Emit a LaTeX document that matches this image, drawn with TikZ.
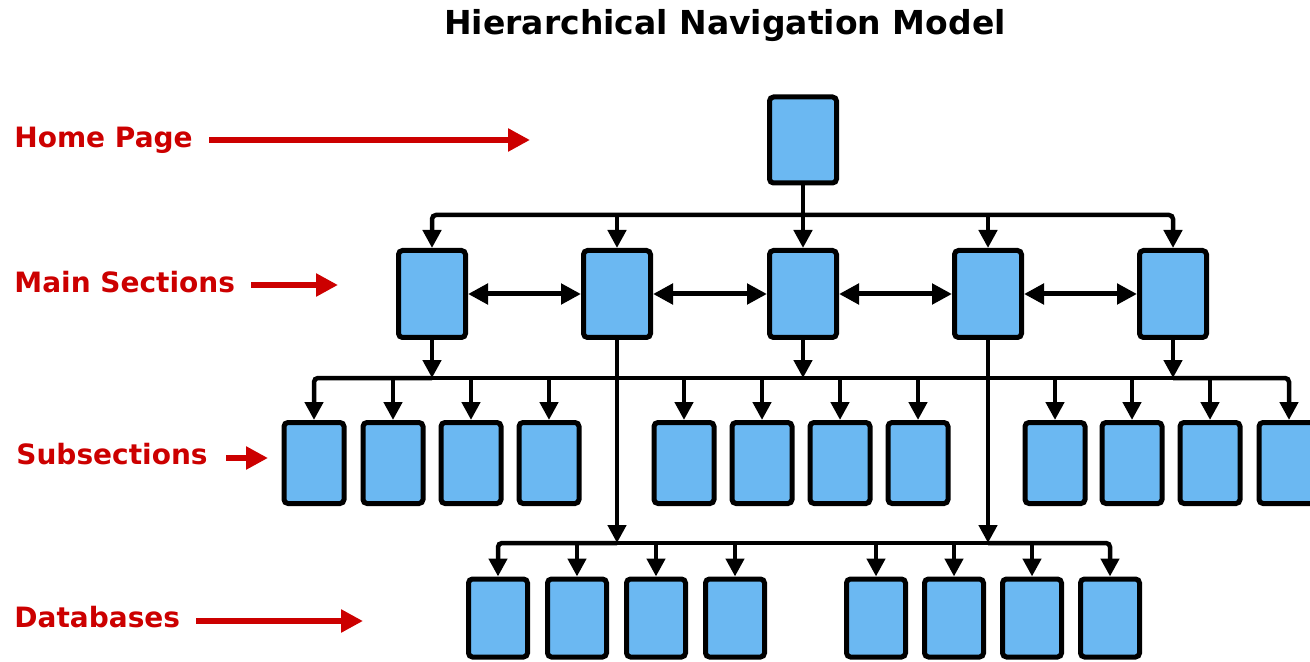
\documentclass[tikz,border=0pt]{standalone}
\usepackage{fontspec}
\setmainfont{DejaVu Sans}
\usetikzlibrary{arrows.meta,calc,positioning}
\definecolor{pageblue}{HTML}{6BB8F2}
\definecolor{labelred}{HTML}{CC0000}

\begin{document}
\begin{tikzpicture}[x=0.5pt,y=-0.5pt,
    page/.style={draw=black,line width=2.5pt,fill=pageblue,rounded corners=2pt,
        minimum width=33.5pt,minimum height=43.5pt,inner sep=0pt},
    subpage/.style={page,minimum width=30pt,minimum height=40.5pt},
    dbpage/.style={page,minimum width=29.5pt,minimum height=39pt},
    wire/.style={line width=2.25pt},
    link/.style={wire,-{Triangle[length=9pt,width=9pt]}},
    twoway/.style={line width=2.5pt,{Triangle[length=10pt,width=10pt]}-{Triangle[length=10pt,width=10pt]}},
    level/.style={text=labelred,font=\bfseries\fontsize{14}{16}\selectfont,anchor=base west,inner sep=0pt},
    pointer/.style={draw=labelred,line width=3pt,-{Triangle[length=11pt,width=11pt]}}]
    \useasboundingbox (0,0) rectangle (1310,662);
    % pages
    \node[page,minimum height=43pt] (home) at (803,140) {};
    \foreach \x [count=\i] in {432,617,803,988,1173}
        \node[page] (m\i) at (\x,294) {};
    \foreach \x [count=\i] in {314,393,471,549,684,762,840,918,1055,1132,1210,1289}
        \node[subpage] (s\i) at (\x,463) {};
    \foreach \x [count=\i] in {498,577,656,735,876,954,1032,1110}
        \node[dbpage] (d\i) at (\x,618) {};
    \coordinate (topbus) at (0,215);
    \coordinate (subbus) at (0,378);
    \coordinate (dbbus) at (0,543);
    % home page to main sections
    \draw[link] (home.south) -- (m3.north);
    \draw[link,rounded corners=2pt] (home.south |- topbus) -| (m1.north);
    \draw[link,rounded corners=2pt] (home.south |- topbus) -| (m5.north);
    \draw[link] (m2.north |- topbus) -- (m2.north);
    \draw[link] (m4.north |- topbus) -- (m4.north);
    \foreach \i [evaluate=\i as \j using int(\i+1)] in {1,...,4}
        \draw[twoway] (m\i.east) -- (m\j.west);
    % main sections to subsections
    \foreach \i in {1,3,5}
        \draw[link] (m\i.south) -- (m\i.south |- subbus);
    \draw[wire] (m1.south |- subbus) -- (m5.south |- subbus);
    \draw[link,rounded corners=2pt] (m1.south |- subbus) -| (s1.north);
    \draw[link,rounded corners=2pt] (m5.south |- subbus) -| (s12.north);
    \foreach \i in {2,...,11}
        \draw[link] (s\i.north |- subbus) -- (s\i.north);
    % main sections to databases
    \foreach \i in {2,4}
        \draw[link] (m\i.south) -- (m\i.south |- dbbus);
    \draw[wire] (m2.south |- dbbus) -- (m4.south |- dbbus);
    \draw[link,rounded corners=2pt] (m2.south |- dbbus) -| (d1.north);
    \draw[link,rounded corners=2pt] (m4.south |- dbbus) -| (d8.north);
    \foreach \i in {2,...,7}
        \draw[link] (d\i.north |- dbbus) -- (d\i.north);
    % titles and levels
    \node[font=\bfseries\fontsize{16.5}{20}\selectfont,anchor=base,inner sep=0pt] (title) at (725,35) {Hierarchical Navigation Model};
    \node[level] (lhome) at (14,148) {Home Page};
    \node[level] (lmain) at (14,293) {Main Sections};
    \node[level] (lsub) at (16,464) {Subsections};
    \node[level] (ldb) at (14,627) {Databases};
    \coordinate (homeend) at (530,140);
    \coordinate (mainend) at (338,285);
    \coordinate (subend) at (268,458);
    \coordinate (dbend) at (363,621);
    \draw[pointer,shorten <=8pt] (lhome.east |- homeend) -- (homeend);
    \draw[pointer,shorten <=8pt] (lmain.east |- mainend) -- (mainend);
    \draw[pointer,shorten <=9pt] (lsub.east |- subend) -- (subend);
    \draw[pointer,shorten <=8pt] (ldb.east |- dbend) -- (dbend);
\end{tikzpicture}
\end{document}
